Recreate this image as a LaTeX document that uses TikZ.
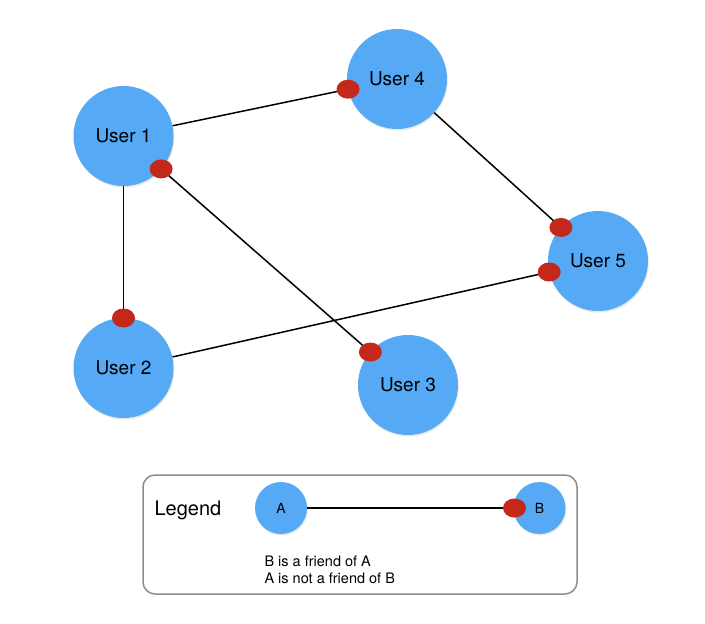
\documentclass[tikz,border=0pt]{standalone}
\usepackage{fontspec}
\setmainfont{TeX Gyre Heros}
\usetikzlibrary{calc,shapes.geometric,shadows}
\definecolor{userblue}{RGB}{86,169,245}
\definecolor{dotred}{RGB}{196,40,27}
\definecolor{boxgray}{RGB}{140,140,140}

\begin{document}
\begin{tikzpicture}[x=1pt, y=-1pt,
    user/.style={circle, fill=userblue, minimum size=100pt, inner sep=0pt,
      font=\fontsize{19}{21}\selectfont,
      drop shadow={opacity=0.18, shadow xshift=0.8pt, shadow yshift=-1.5pt}},
    legendnode/.style={user, minimum size=52pt, font=\fontsize{14}{16}\selectfont},
    frienddot/.style={ellipse, fill=dotred, minimum width=23pt, minimum height=19pt, inner sep=0pt},
    link/.style={line width=1.5pt}]
  \useasboundingbox (0,0) rectangle (705,624);

  % users
  \node[user] (u1) at (123.5,136) {User 1};
  \node[user] (u4) at (397,79) {User 4};
  \node[user] (u5) at (598,261) {User 5};
  \node[user] (u2) at (123.5,368) {User 2};
  \node[user] (u3) at (408,385) {User 3};

  % friendships
  \draw[link] (u1) -- (u4);
  \draw[link] (u1) -- (u2);
  \draw[link] (u1) -- (u3);
  \draw[link] (u4) -- (u5);
  \draw[link] (u2) -- (u5);

  % red dot = the friend end
  \node[frienddot] (d14) at ($(u4)!50pt!(u1)$) {};
  \node[frienddot] (d12) at ($(u2)!50pt!(u1)$) {};
  \node[frienddot] (d13) at ($(u3)!50pt!(u1)$) {};
  \node[frienddot] (d31) at ($(u1)!50pt!(u3)$) {};
  \node[frienddot] (d45) at ($(u5)!50pt!(u4)$) {};
  \node[frienddot] (d25) at ($(u5)!50pt!(u2)$) {};

  % legend
  \draw[boxgray, line width=1.5pt, rounded corners=12pt] (143,475) rectangle (577,594);
  \node[anchor=west, font=\fontsize{20}{22}\selectfont] (title) at (151,510) {Legend};
  \node[legendnode] (a) at (281,508) {A};
  \node[legendnode] (b) at (539.5,508) {B};
  \draw[link] (a) -- (b);
  \node[frienddot] (dab) at ($(b)!25pt!(a)$) {};
  \node[anchor=west, align=left, font=\fontsize{14.5}{17}\selectfont] (note) at (261,569.5)
    {B is a friend of A\\A is not a friend of B};
\end{tikzpicture}
\end{document}
